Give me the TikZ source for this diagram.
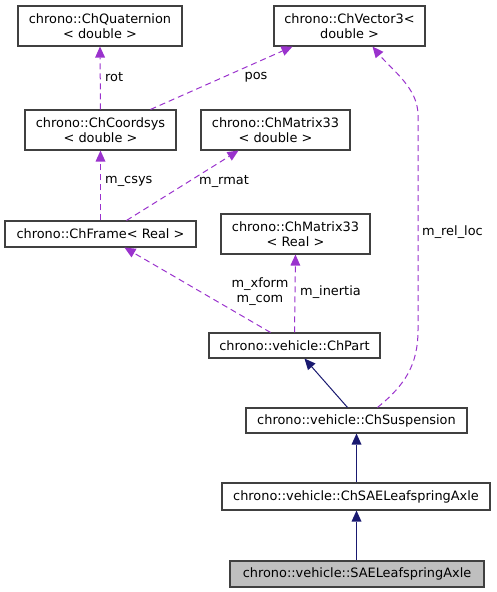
\documentclass[tikz,border=0pt]{standalone}
\usepackage{fontspec}
\setmainfont{DejaVu Sans}
\usetikzlibrary{arrows.meta}
\definecolor{edgepurple}{HTML}{9A32CD}
\definecolor{edgenavy}{HTML}{191970}
\definecolor{boxgray}{HTML}{404040}
\definecolor{fillgray}{HTML}{BFBFBF}
\begin{document}
\begin{tikzpicture}[x=1pt,y=-1pt,
  every node/.style={font=\fontsize{12.9}{15}\selectfont},
  cls/.style={draw=boxgray,line width=1.1pt,fill=white,inner sep=0pt,align=center},
  usage/.style={draw=edgepurple,line width=1pt,dash pattern=on 6pt off 4pt,
    -{Triangle[length=11pt,width=10pt,fill=edgepurple,line width=0pt]}},
  inherit/.style={draw=edgenavy,line width=1pt,
    -{Triangle[length=11pt,width=10pt,fill=edgenavy,line width=0pt]}},
  lbl/.style={inner sep=0pt}]
\useasboundingbox (0,0) rectangle (497,592);
\node[cls,minimum width=164pt,minimum height=40pt] (quat) at (100,26) {chrono::ChQuaternion\\< double >};
\node[cls,minimum width=151pt,minimum height=40pt] (vec) at (349.5,26) {chrono::ChVector3<\\double >};
\node[cls,minimum width=151pt,minimum height=40pt] (coord) at (100.5,130) {chrono::ChCoordsys\\< double >};
\node[cls,minimum width=149pt,minimum height=40pt] (matd) at (275.5,130) {chrono::ChMatrix33\\< double >};
\node[cls,minimum width=191pt,minimum height=26pt] (frame) at (100.5,234) {chrono::ChFrame< Real >};
\node[cls,minimum width=149pt,minimum height=40pt] (matr) at (295.5,234) {chrono::ChMatrix33\\< Real >};
\node[cls,minimum width=171pt,minimum height=25pt] (part) at (294.5,345.5) {chrono::vehicle::ChPart};
\node[cls,minimum width=221pt,minimum height=25pt] (susp) at (356.5,420.5) {chrono::vehicle::ChSuspension};
\node[cls,minimum width=268pt,minimum height=27pt] (chsae) at (356,496.5) {chrono::vehicle::ChSAELeafspringAxle};
\node[cls,fill=fillgray,minimum width=254pt,minimum height=26pt] (sae) at (357,574) {chrono::vehicle::SAELeafspringAxle};

\draw[usage] (coord.north) -- (quat.south);
\node[lbl,anchor=west] (lrot) at (105,77) {rot};
\draw[usage] ([xshift=50pt]coord.north) -- ([xshift=-57pt]vec.south);
\node[lbl] (lpos) at (256,77) {pos};
\draw[usage] (frame.north) -- (coord.south);
\node[lbl,anchor=west] (lcsys) at (105,181) {m\_csys};
\draw[usage] ([xshift=26pt]frame.north) -- ([xshift=-37pt]matd.south);
\node[lbl] (lrmat) at (224,181) {m\_rmat};
\draw[usage] ([xshift=-24pt]part.north) -- ([xshift=24pt]frame.south);
\node[lbl,align=center] (lxform) at (260,292) {m\_xform\\m\_com};
\draw[usage] (part.north) -- (matr.south);
\node[lbl,anchor=west] (linertia) at (300,292) {m\_inertia};
\draw[usage] ([xshift=21pt]susp.north) .. controls (405,385) and (418,365) .. (418,330)
  -- (418,115) .. controls (418,88) and (392,70) .. ([xshift=23pt]vec.south);
\node[lbl,anchor=west] (lrel) at (422,232) {m\_rel\_loc};
\draw[inherit] ([xshift=-9pt]susp.north) -- ([xshift=10pt]part.south);
\draw[inherit] (chsae.north -| susp.north) -- (susp.south);
\draw[inherit] (sae.north -| susp.north) -- (chsae.south -| susp.south);
\end{tikzpicture}
\end{document}
